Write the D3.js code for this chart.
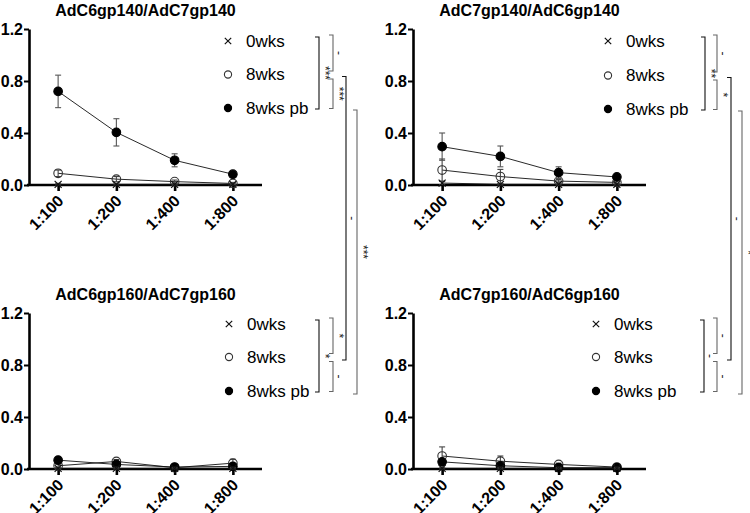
<!DOCTYPE html>
<html>
<head>
<meta charset="utf-8">
<script src="https://cdn.jsdelivr.net/npm/d3@7"></script>
<style>
  body { margin: 0; background: #fff; }
  svg { display: block; font-family: "Liberation Sans", Arial, sans-serif; }
</style>
</head>
<body>
<div id="chart"></div>
<script>
// dilutions on the x axis, groups in the legend
var dilutions = ["1:100", "1:200", "1:400", "1:800"];
var groups = ["0wks", "8wks", "8wks pb"];
var titles = ["AdC6gp140/AdC7gp140", "AdC7gp140/AdC6gp140", "AdC6gp160/AdC7gp160", "AdC7gp160/AdC6gp160"];
var yTicks = [0, 0.4, 0.8, 1.2];

// means and error (SEM) per panel, one row per group
var c6gp140Mean = [[0.005, 0.005, 0.005, 0.005], [0.09, 0.045, 0.026, 0.012], [0.72, 0.405, 0.19, 0.083]];
var c6gp140Err  = [[0.008, 0.008, 0.008, 0.008], [0.025, 0.02, 0.012, 0.008], [0.125, 0.105, 0.05, 0.008]];
var c7gp140Mean = [[0.015, 0.005, 0.005, 0.005], [0.115, 0.065, 0.03, 0.02], [0.295, 0.22, 0.095, 0.062]];
var c7gp140Err  = [[0.012, 0.008, 0.008, 0.008], [0.085, 0.055, 0.012, 0.01], [0.105, 0.08, 0.045, 0.012]];
var c6gp160Mean = [[0.005, 0.005, 0.005, 0.005], [0.025, 0.058, 0.01, 0.045], [0.068, 0.035, 0.015, 0.02]];
var c6gp160Err  = [[0.008, 0.008, 0.008, 0.008], [0.012, 0.015, 0.008, 0.03], [0.012, 0.01, 0.006, 0.01]];
var c7gp160Mean = [[0.005, 0.005, 0.005, 0.005], [0.1, 0.06, 0.035, 0.015], [0.055, 0.025, 0.01, 0.01]];
var c7gp160Err  = [[0.008, 0.008, 0.008, 0.008], [0.07, 0.04, 0.01, 0.008], [0.012, 0.01, 0.006, 0.006]];

// significance brackets inside each panel: rows a..b of the legend
var brackets = [
  {panel: 0, a: 0, b: 2, col: 0, label: "***"},
  {panel: 0, a: 0, b: 1, col: 1, label: "-"},
  {panel: 0, a: 1, b: 2, col: 1, label: "***"},
  {panel: 1, a: 0, b: 2, col: 0, label: "**"},
  {panel: 1, a: 0, b: 1, col: 1, label: "-"},
  {panel: 1, a: 1, b: 2, col: 1, label: "*"},
  {panel: 2, a: 0, b: 2, col: 0, label: "*"},
  {panel: 2, a: 0, b: 1, col: 1, label: "*"},
  {panel: 2, a: 1, b: 2, col: 1, label: "-"},
  {panel: 3, a: 0, b: 2, col: 0, label: "-"},
  {panel: 3, a: 0, b: 1, col: 1, label: "-"},
  {panel: 3, a: 1, b: 2, col: 1, label: "-"}
];
// brackets between the top and bottom panel of one column
var crossBrackets = [
  {side: 0, row: 1, col: 0, label: "-"},
  {side: 0, row: 2, col: 1, label: "***"},
  {side: 1, row: 1, col: 0, label: "-"},
  {side: 1, row: 2, col: 1, label: "*"}
];

var means = [c6gp140Mean, c7gp140Mean, c6gp160Mean, c7gp160Mean];
var errs = [c6gp140Err, c7gp140Err, c6gp160Err, c7gp160Err];

var width = 750, height = 513;
var plotW = 233, plotH = 156;
var panels = [
  {x: 29, y: 29, legX: 228, brX: [319, 333], rows: [41, 74.5, 108]},
  {x: 413, y: 29, legX: 608, brX: [705, 717], rows: [41, 75.5, 109]},
  {x: 29, y: 313, legX: 229, brX: [319, 333], rows: [324, 357, 391]},
  {x: 413, y: 313, legX: 596, brX: [704, 717], rows: [324, 357, 391]}
];
var crossX = [[346, 357], [731, 742]];

var svg = d3.select("#chart")
  .append("svg")
    .attr("width", width)
    .attr("height", height);

var x = d3.scalePoint()
  .domain(dilutions)
  .range([0, plotW])
  .padding(0.5);

var y = d3.scaleLinear()
  .domain([0, 1.2])
  .range([plotH, 0]);

function marker(sel, g, cx, cy, r) {
  if (g === 0) {
    sel.append("path")
      .attr("d", "M" + (cx - r) + "," + (cy - r) + "L" + (cx + r) + "," + (cy + r) +
                 "M" + (cx - r) + "," + (cy + r) + "L" + (cx + r) + "," + (cy - r))
      .attr("stroke", "#111")
      .attr("stroke-width", 1.2);
  } else {
    sel.append("circle")
      .attr("cx", cx).attr("cy", cy).attr("r", r)
      .attr("fill", g === 2 ? "#000" : "none")
      .attr("stroke", g === 2 ? "#000" : "#333")
      .attr("stroke-width", 1.1);
  }
}

panels.forEach(function(p, i) {
  var g = svg.append("g")
    .attr("transform", "translate(" + p.x + "," + p.y + ")");

  // title
  g.append("text")
    .attr("x", plotW / 2)
    .attr("y", -13)
    .attr("text-anchor", "middle")
    .style("font-weight", "bold")
    .style("font-size", "16px")
    .text(titles[i]);

  // y axis
  var ya = g.append("g")
    .call(d3.axisLeft(y).tickValues(yTicks).tickSize(5).tickSizeOuter(0).tickFormat(d3.format(".1f")));
  ya.select(".domain").attr("stroke-width", 2.6);
  ya.selectAll(".tick line").attr("stroke-width", 2);
  ya.selectAll(".tick text")
    .attr("x", -6)
    .style("font-size", "16px")
    .style("font-weight", "bold")
    .style("font-family", "'Liberation Sans', Arial, sans-serif")
    .attr("fill", "#000");

  // x axis
  var xa = g.append("g")
    .attr("transform", "translate(0," + plotH + ")")
    .call(d3.axisBottom(x).tickSize(6).tickSizeOuter(0));
  xa.select(".domain").attr("stroke-width", 2.6).attr("d", "M-2,0H" + plotW);
  xa.selectAll(".tick line").attr("stroke-width", 2.6);
  xa.selectAll(".tick text")
    .attr("x", 0).attr("y", 0).attr("dy", "0.35em")
    .attr("text-anchor", "end")
    .attr("transform", "translate(2,13) rotate(-45)")
    .style("font-size", "16px")
    .style("font-weight", "bold")
    .style("font-family", "'Liberation Sans', Arial, sans-serif")
    .attr("fill", "#000");

  // series: lines, error bars, markers
  var line = d3.line()
    .x(function(d, j) { return x(dilutions[j]); })
    .y(function(d) { return y(d); });

  [1, 2, 0].forEach(function(k) {
    var m = means[i][k], e = errs[i][k];
    g.append("path")
      .attr("d", line(m))
      .attr("fill", "none")
      .attr("stroke", "#111")
      .attr("stroke-width", 0.9);
    m.forEach(function(v, j) {
      var cx = x(dilutions[j]);
      var lo = Math.max(0, v - e[j]), hi = v + e[j];
      var eg = g.append("g").attr("stroke", k === 2 ? "#555" : "#444").attr("stroke-width", 1.1);
      eg.append("line").attr("x1", cx).attr("x2", cx).attr("y1", y(lo)).attr("y2", y(hi));
      eg.append("line").attr("x1", cx - 3).attr("x2", cx + 3).attr("y1", y(hi)).attr("y2", y(hi));
      eg.append("line").attr("x1", cx - 3).attr("x2", cx + 3).attr("y1", y(lo)).attr("y2", y(lo));
      marker(g, k, cx, y(v), k === 0 ? 3.5 : 4.3);
    });
  });

  // legend
  groups.forEach(function(name, k) {
    marker(svg, k, p.legX, p.rows[k], k === 0 ? 3.2 : 3.6);
    svg.append("text")
      .attr("x", p.legX + 18)
      .attr("y", p.rows[k])
      .attr("dy", "0.35em")
      .style("font-size", "17px")
      .text(name);
  });
});

// vertical comparison bracket with short ends pointing left
function bracket(bx, y1, y2, label, color) {
  var bg = svg.append("g");
  bg.append("path")
    .attr("d", "M" + (bx - 4) + "," + y1 + "H" + bx + "V" + y2 + "H" + (bx - 4))
    .attr("fill", "none")
    .attr("stroke", color)
    .attr("stroke-width", 1.1);
  bg.append("text")
    .attr("transform", "translate(" + (bx + 2) + "," + ((y1 + y2) / 2) + ") rotate(90)")
    .attr("text-anchor", "middle")
    .style("font-size", "12px")
    .attr("fill", "#222")
    .text(label);
}

brackets.forEach(function(b) {
  var p = panels[b.panel];
  var y1, y2;
  if (b.col === 0) { y1 = p.rows[b.a] - 4; y2 = p.rows[b.b] + 1; }
  else if (b.a === 0) { y1 = p.rows[0] - 6; y2 = p.rows[1] - 3.5; }
  else { y1 = p.rows[1] + 4.5; y2 = p.rows[2] + 0.5; }
  bracket(p.brX[b.col], y1, y2, b.label, b.col === 0 ? "#111" : "#666");
});

crossBrackets.forEach(function(c) {
  var top = panels[c.side], bot = panels[c.side + 2];
  bracket(crossX[c.side][c.col], top.rows[c.row] + 2, bot.rows[c.row] + 3, c.label, c.col === 0 ? "#111" : "#666");
});
</script>
</body>
</html>
